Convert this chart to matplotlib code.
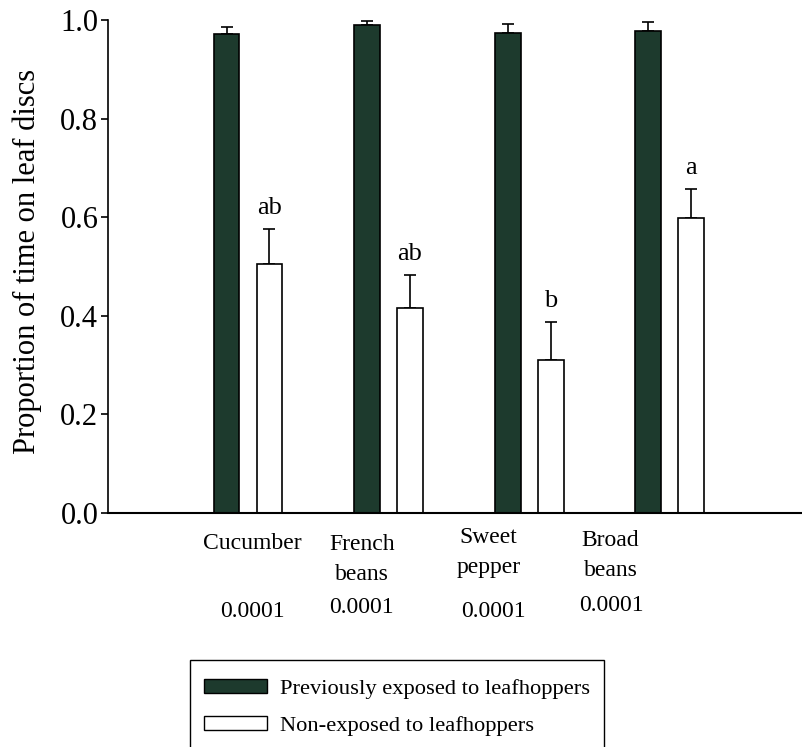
import numpy as np
from matplotlib import pyplot as plt
from matplotlib import transforms
from matplotlib.patches import Patch, Rectangle

plt.rcParams['font.family'] = ['Liberation Serif', 'DejaVu Serif']

# data
plants = ['Cucumber', 'French\nbeans', 'Sweet\npepper', 'Broad\nbeans']
p_values = ['0.0001', '0.0001', '0.0001', '0.0001']
exposed = [0.972, 0.990, 0.974, 0.978]
exposed_err = [0.013, 0.008, 0.018, 0.018]
non_exposed = [0.505, 0.415, 0.310, 0.598]
non_exposed_err = [0.072, 0.068, 0.078, 0.060]
letters = ['ab', 'ab', 'b', 'a']
series_names = ['Previously exposed to leafhoppers', 'Non-exposed to leafhoppers']

dark = '#1d3a2d'
W, H = 803, 747

fig = plt.figure(figsize=(W / 100, H / 100), dpi=100)
ax = fig.add_axes([108 / W, 1 - 513 / H, (W - 108) / W, 493 / H])

x = np.arange(len(plants))
off = 0.153
bw = 0.185
ax.bar(x - off, exposed, bw, color=dark, edgecolor='black', linewidth=1.2, zorder=2)
ax.bar(x + off, non_exposed, bw, color='white', edgecolor='black', linewidth=1.2, zorder=2)
ax.errorbar(x - off, exposed, yerr=[np.zeros(len(x)), exposed_err], fmt='none',
            ecolor='black', elinewidth=1.2, capsize=4, capthick=1.2, zorder=1)
ax.errorbar(x + off, non_exposed, yerr=[np.zeros(len(x)), non_exposed_err], fmt='none',
            ecolor='black', elinewidth=1.2, capsize=4, capthick=1.2, zorder=1)

# significance letters above the non-exposed bars
for xi, v, e, s in zip(x, non_exposed, non_exposed_err, letters):
    ax.annotate(s, (xi + off, v + e), xytext=(0, 7), textcoords='offset points',
                ha='center', va='bottom', fontsize=19)

ax.set_xlim(-0.9964, 3.95)
ax.set_ylim(0, 1.0)
ax.set_yticks([0.0, 0.2, 0.4, 0.6, 0.8, 1.0])
ax.set_yticklabels(['0.0', '0.2', '0.4', '0.6', '0.8', '1.0'])
ax.set_xticks([])
ax.tick_params(axis='y', labelsize=22, length=5, width=1.2, pad=2, direction='out')
ax.spines['top'].set_visible(False)
ax.spines['right'].set_visible(False)
ax.spines['left'].set_linewidth(1.2)
ax.spines['bottom'].set_linewidth(1.5)
ax.set_ylabel('Proportion of time on leaf discs', fontsize=22)
ax.yaxis.set_label_coords(-(108 - 42) / (W - 108), (513 - 261) / 493)

# category names and p-values under the axis (slightly shifted, as in the print)
# baselines are for the last line of each name
shift = [0.03, -0.19, -0.29, -0.42]
name_base = [549, 580, 573, 576]
p_base = [617, 613, 617, 611]
p_shift = [0.03, -0.19, -0.25, -0.41]
trans = transforms.blended_transform_factory(ax.transData, fig.transFigure)
for i, name in enumerate(plants):
    ax.text(x[i] + shift[i], 1 - name_base[i] / H, name, transform=trans,
            ha='center', va='baseline', fontsize=17, linespacing=1.55, clip_on=False)
    ax.text(x[i] + p_shift[i], 1 - p_base[i] / H, p_values[i], transform=trans,
            ha='center', va='baseline', fontsize=17, clip_on=False)

# legend with a frame running off the bottom of the page
handles = [Patch(facecolor=dark, edgecolor='black', linewidth=1.0),
           Patch(facecolor='white', edgecolor='black', linewidth=1.0)]
fig.legend(handles, series_names, loc='upper left',
           bbox_to_anchor=(204 / W, 1 - 679 / H), frameon=False, fontsize=16.2,
           borderpad=0, borderaxespad=0, handlelength=2.8, handleheight=0.58,
           handletextpad=0.58, labelspacing=0.78)
fig.patches.append(Rectangle((190 / W, -0.05), (604 - 190) / W, 0.05 + (747 - 660) / H,
                             transform=fig.transFigure, fill=False,
                             edgecolor='black', linewidth=1.0))

fig.savefig('out.png', dpi=100)
